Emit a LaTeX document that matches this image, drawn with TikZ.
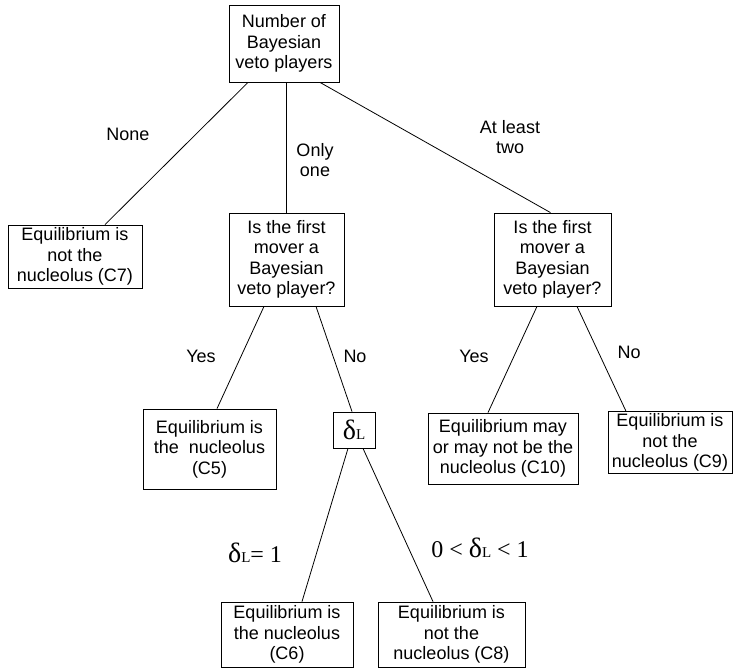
\documentclass[tikz,border=0pt]{standalone}
\usepackage{fontspec}
\setmainfont{Liberation Sans}
\newfontfamily\timesfont{Liberation Serif}
\usetikzlibrary{positioning,calc}

\newcommand{\dL}{{\timesfont\fontsize{28}{30}\selectfont δ\fontsize{15}{17}\selectfont L}}

\begin{document}
\begin{tikzpicture}[x=1pt,y=-1pt]
      \tikzset{
        kasten/.style={rectangle, draw=black, line width=0.8pt, align=center,
                       inner sep=2pt, font=\fontsize{18}{20.5}\selectfont},
        marke/.style={align=center, inner sep=0pt, font=\fontsize{18}{20.5}\selectfont},
        formel/.style={inner sep=0pt, font=\timesfont\fontsize{24}{26}\selectfont},
        linie/.style={line width=0.8pt}
      }
      \useasboundingbox (0,0) rectangle (733,670);

      \node[kasten, minimum width=110pt, minimum height=77pt] (wurzel) at (284,43.5) {
        Number of\\Bayesian\\veto players
      };

      \node[kasten, minimum width=134pt, minimum height=63pt] (c7) at (75,256.5) {
        Equilibrium is\\not the\\nucleolus (C7)
      };

      \node[kasten, minimum width=115pt, minimum height=93pt] (frage1) at (286.5,259.5) {
        Is the first\\mover a\\Bayesian\\veto player?
      };

      \node[kasten, minimum width=117pt, minimum height=93pt] (frage2) at (552.5,259.5) {
        Is the first\\mover a\\Bayesian\\veto player?
      };

      \node[kasten, minimum width=133pt, minimum height=80pt] (c5) at (209.5,449) {
        Equilibrium is\\the\ \ nucleolus\\(C5)
      };

      \node[kasten, minimum width=42pt, minimum height=36pt, inner sep=0pt] (delta) at (354,430) {\dL};

      \node[kasten, minimum width=150pt, minimum height=71pt] (c10) at (503,448.5) {
        Equilibrium may\\or may not be the\\nucleolus (C10)
      };

      \node[kasten, minimum width=124pt, minimum height=61pt] (c9) at (670,442.5) {
        Equilibrium is\\not the\\nucleolus (C9)
      };

      \node[kasten, minimum width=132pt, minimum height=65pt] (c6) at (287,634.5) {
        Equilibrium is\\the nucleolus\\(C6)
      };

      \node[kasten, minimum width=147pt, minimum height=65pt] (c8) at (451.5,634.5) {
        Equilibrium is\\not the\\nucleolus (C8)
      };

      % Beschriftungen
      \node[marke] (keiner) at (128,134) {None};
      \node[marke] (einer) at (315,160) {Only\\one};
      \node[marke] (zwei) at (510,137) {At least\\two};
      \node[marke] (ja1) at (201,356) {Yes};
      \node[marke] (nein1) at (355,356) {No};
      \node[marke] (ja2) at (474,356) {Yes};
      \node[marke] (nein2) at (629,352) {No};
      \node[formel] (gleich) at (255,553) {\dL= 1};
      \node[formel] (zwischen) at (480,548) {0 < \dL{} < 1};

      \draw[linie] ([xshift=-36pt]wurzel.south) -- ([xshift=30pt]c7.north);
      \draw[linie] (frage1.north |- wurzel.south) -- (frage1.north);
      \draw[linie] ([xshift=36pt]wurzel.south) -- ([xshift=-2pt]frage2.north);
      \draw[linie] ([xshift=-22.5pt]frage1.south) -- ([xshift=7.5pt]c5.north);
      \draw[linie] ([xshift=29.5pt]frage1.south) -- ([xshift=-2pt]delta.north);
      \draw[linie] ([xshift=-6pt]delta.south) -- ([xshift=15pt]c6.north);
      \draw[linie] ([xshift=9pt]delta.south) -- ([xshift=-18.5pt]c8.north);
      \draw[linie] ([xshift=-15.5pt]frage2.south) -- ([xshift=-15pt]c10.north);
      \draw[linie] ([xshift=24.5pt]frage2.south) -- ([xshift=-44pt]c9.north);

    \end{tikzpicture}
\end{document}
